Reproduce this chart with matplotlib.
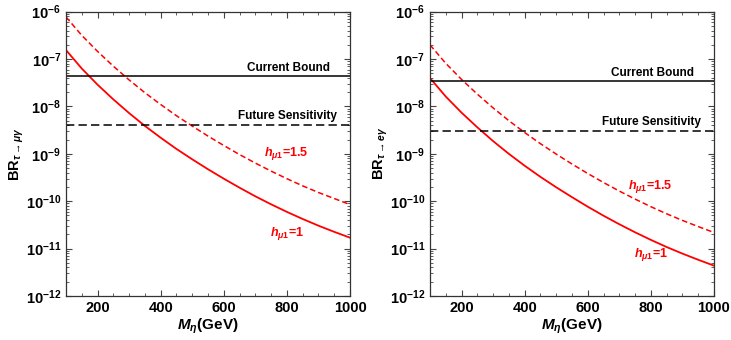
import matplotlib
matplotlib.use('Agg')
import numpy as np
import matplotlib.pyplot as plt
from matplotlib.ticker import LogLocator, MultipleLocator, NullFormatter

plt.rcParams['font.family'] = ['Liberation Sans', 'DejaVu Sans']
plt.rcParams['font.weight'] = 'bold'
plt.rcParams['mathtext.fontset'] = 'custom'
plt.rcParams['mathtext.rm'] = 'Liberation Sans:bold'
plt.rcParams['mathtext.bf'] = 'Liberation Sans:bold'
plt.rcParams['mathtext.it'] = 'Liberation Sans:italic:bold'
plt.rcParams['lines.scale_dashes'] = False

# masses in GeV
m_eta = [100, 150, 200, 250, 300, 350, 400, 450, 500, 550,
         600, 650, 700, 750, 800, 850, 900, 950, 1000]

# tau -> mu gamma
br_mu_h1 = [1.55e-7, 6.31e-8, 2.88e-8, 1.41e-8, 7.24e-9, 3.89e-9, 2.19e-9, 1.27e-9, 7.67e-10, 4.73e-10,
            2.99e-10, 1.93e-10, 1.27e-10, 8.61e-11, 5.96e-11, 4.22e-11, 3.05e-11, 2.26e-11, 1.70e-11]
br_mu_h15 = [7.76e-7, 3.16e-7, 1.45e-7, 7.08e-8, 3.63e-8, 1.95e-8, 1.10e-8, 6.38e-9, 3.85e-9, 2.37e-9,
             1.50e-9, 9.66e-10, 6.38e-10, 4.32e-10, 2.99e-10, 2.11e-10, 1.53e-10, 1.14e-10, 8.5e-11]

# tau -> e gamma
br_e_h1 = [3.98e-8, 1.62e-8, 7.41e-9, 3.63e-9, 1.86e-9, 1.0e-9, 5.62e-10, 3.27e-10, 1.97e-10, 1.22e-10,
           7.67e-11, 4.95e-11, 3.27e-11, 2.21e-11, 1.53e-11, 1.08e-11, 7.85e-12, 5.82e-12, 4.37e-12]
br_e_h15 = [2.0e-7, 8.13e-8, 3.72e-8, 1.82e-8, 9.33e-9, 5.01e-9, 2.82e-9, 1.64e-9, 9.89e-10, 6.1e-10,
            3.85e-10, 2.48e-10, 1.64e-10, 1.11e-10, 7.67e-11, 5.43e-11, 3.94e-11, 2.92e-11, 2.19e-11]

bounds_mu = [4.4e-8, 4.0e-9]   # current, future
bounds_e = [3.4e-8, 3.0e-9]

# (h=1.5 label y, h=1 label y)
labels_mu = (1.0e-9, 2.1e-11)
labels_e = (2.0e-10, 7.4e-12)

panels = [
    (br_mu_h1, br_mu_h15, bounds_mu, r'$\mathbf{BR}_{\tau\to\mu\gamma}$', 0.0903, labels_mu),
    (br_e_h1, br_e_h15, bounds_e, r'$\mathbf{BR}_{\tau\to e\gamma}$', 0.5882, labels_e),
]

fig = plt.figure(figsize=(7.31, 3.40), dpi=100)

for h1, h15, bnd, ylab, left, lab_y in panels:
    ax = fig.add_axes([left, 0.1294, 0.3885, 0.8362])
    ax.plot(m_eta, h1, color='red', lw=1.3)
    ax.plot(m_eta, h15, color='red', lw=1.1, dashes=(4.0, 2.2))
    ax.axhline(bnd[0], color='black', lw=1.1)
    ax.axhline(bnd[1], color='black', lw=1.1, dashes=(6.0, 3.0))
    ax.set_yscale('log')
    ax.set_xlim(100, 1000)
    ax.set_ylim(1e-12, 1e-6)

    tr = ax.get_yaxis_transform()
    ax.text(0.93, bnd[0] * 1.1, 'Current Bound', transform=tr,
            ha='right', va='bottom', fontsize=8.5, fontweight='bold')
    ax.text(0.955, bnd[1] * 1.15, 'Future Sensitivity', transform=tr,
            ha='right', va='bottom', fontsize=8.5, fontweight='bold')
    ax.text(0.777, lab_y[0], r'$h_{\mu 1}$=1.5', transform=tr,
            ha='center', va='center', fontsize=9, color='red', fontweight='bold')
    ax.text(0.777, lab_y[1], r'$h_{\mu 1}$=1', transform=tr,
            ha='center', va='center', fontsize=9, color='red', fontweight='bold')

    ax.xaxis.set_major_locator(MultipleLocator(200))
    ax.xaxis.set_minor_locator(MultipleLocator(50))
    ax.yaxis.set_major_locator(LogLocator(base=10, numticks=10))
    ax.yaxis.set_minor_locator(LogLocator(base=10, subs=np.arange(2, 10), numticks=10))
    ax.yaxis.set_minor_formatter(NullFormatter())
    ax.tick_params(which='both', direction='in', top=True, right=True, labelsize=10.5, color='#444444')
    ax.tick_params(which='major', length=4, width=0.8)
    ax.tick_params(which='minor', length=2, width=0.6)
    for lbl in ax.get_xticklabels() + ax.get_yticklabels():
        lbl.set_fontweight('bold')
    for sp in ax.spines.values():
        sp.set_color('#333333')
        sp.set_linewidth(0.9)

    ax.set_xlabel(r'$M_\eta$(GeV)', fontsize=11, fontweight='bold', labelpad=1)
    ax.set_ylabel(ylab, fontsize=10.5, fontweight='bold')
    ax.yaxis.set_label_coords(-0.14, 0.5)

fig.savefig('out.png', dpi=100)
